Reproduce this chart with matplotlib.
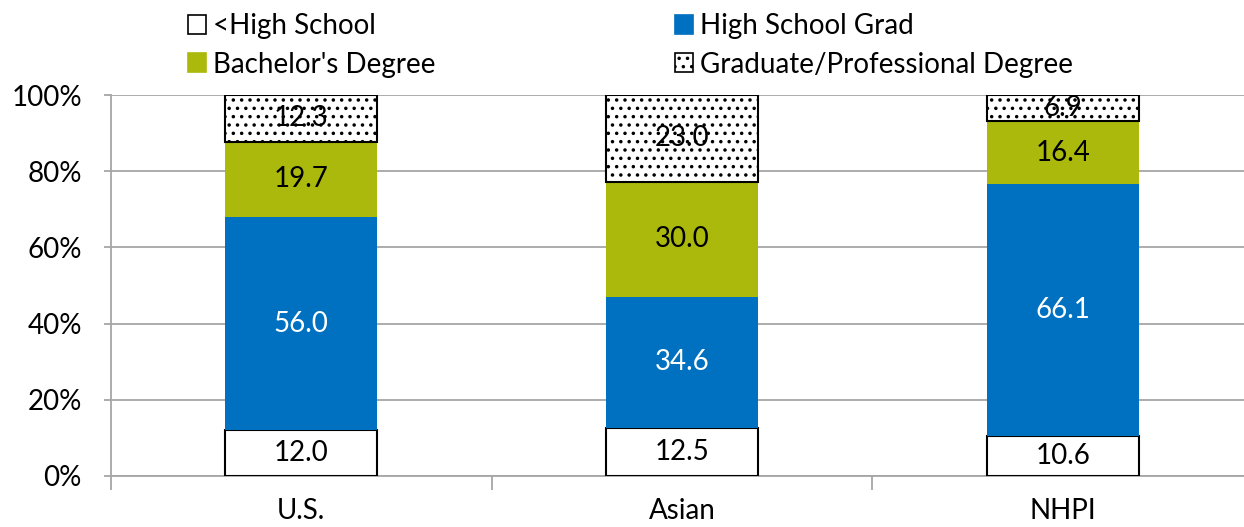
import matplotlib
matplotlib.use("Agg")
import matplotlib.pyplot as plt
from matplotlib.patches import Patch
import numpy as np

plt.rcParams['font.family'] = ['Lato', 'DejaVu Sans']
plt.rcParams['hatch.linewidth'] = 1.3

categories = ["U.S.", "Asian", "NHPI"]
series_names = ["<High School", "High School Grad", "Bachelor's Degree", "Graduate/Professional Degree"]
less_hs = [12.0, 12.5, 10.6]
hs_grad = [56.0, 34.6, 66.1]
bachelors = [19.7, 30.0, 16.4]
graduate = [12.3, 23.0, 6.9]
yticks = [0, 20, 40, 60, 80, 100]
ytick_labels = ["0%", "20%", "40%", "60%", "80%", "100%"]

colors = ["white", "#0070C0", "#AAB90B", "white"]
hatches = [None, None, None, ".."]
edges = ["black", "none", "none", "black"]
label_colors = ["black", "white", "black", "black"]

FS = 20
W, H = 1244, 527
fig = plt.figure(figsize=(W / 100, H / 100), dpi=100)
ax = fig.add_axes([111 / W, 1 - 476 / H, (1253 - 111) / W, (476 - 95) / H])

x = np.arange(len(categories))
bottom = np.zeros(len(categories))
series = [less_hs, hs_grad, bachelors, graduate]
for vals, c, h, e, lc in zip(series, colors, hatches, edges, label_colors):
    vals = np.array(vals)
    ax.bar(x, vals, width=0.4, bottom=bottom, color=c, hatch=h,
           edgecolor=e, linewidth=1.5, zorder=3)
    for xi, b, v in zip(x, bottom, vals):
        ax.text(xi, b + v / 2, f"{v:.1f}", ha="center", va="center",
                fontsize=FS, color=lc, zorder=5)
    bottom = bottom + vals

ax.set_xlim(-0.5, 2.5)
ax.set_ylim(0, 100)
ax.set_yticks(yticks)
ax.set_yticklabels(ytick_labels, fontsize=FS)
ax.yaxis.grid(True, color="#A6A6A6", linewidth=1.3, zorder=0)
ax.set_axisbelow(True)

ax.set_xticks(x)
ax.set_xticklabels(categories, fontsize=FS)
ax.set_xticks([-0.5, 0.5, 1.5, 2.5], minor=True)
ax.tick_params(axis="x", which="major", length=0, pad=16)
ax.tick_params(axis="x", which="minor", length=10, color="#A6A6A6", width=1.3)
ax.tick_params(axis="y", length=5, color="#A6A6A6", width=1.3, pad=16)

for s in ["top", "right"]:
    ax.spines[s].set_visible(False)
for s in ["left", "bottom"]:
    ax.spines[s].set_color("#A6A6A6")
    ax.spines[s].set_linewidth(1.3)

handles = [Patch(facecolor=c, edgecolor=e if e != "none" else c, hatch=h, linewidth=1.2)
           for c, h, e in zip(colors, hatches, edges)]

leg_kw = dict(frameon=False, fontsize=FS, handlelength=0.65, handleheight=0.65,
              handletextpad=0.25, labelspacing=0.45, borderaxespad=0, borderpad=0)
fig.legend([handles[0], handles[2]], [series_names[0], series_names[2]],
           loc="upper left", bbox_to_anchor=(188 / W, 1 - 13 / H), **leg_kw)
fig.legend([handles[1], handles[3]], [series_names[1], series_names[3]],
           loc="upper left", bbox_to_anchor=(675 / W, 1 - 13 / H), **leg_kw)

fig.savefig("out.png", dpi=100)
